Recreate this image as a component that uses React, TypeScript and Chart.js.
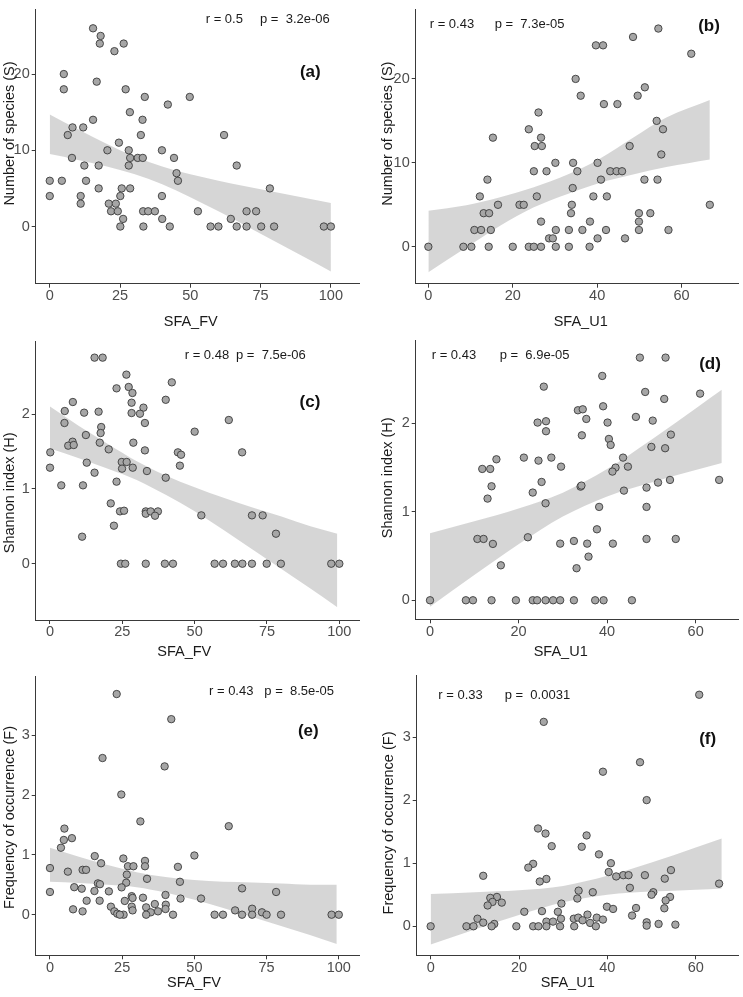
import React, { useEffect, useRef } from "react";
import { Chart, registerables } from "chart.js";
Chart.register(...registerables);

const FONT = "'Liberation Sans', Arial, Helvetica, sans-serif";

// ---------- data (SFA value, response) ----------
const panelA_FV_S: [number, number][] = [
  [15.4, 26], [18.1, 25], [17.8, 24], [26.3, 24], [23.0, 23], [5.0, 20], [5.0, 18], [16.7, 19], [27.0, 18], [33.8, 17],
  [49.8, 17], [42.0, 16], [28.5, 15], [15.4, 14], [33.0, 14], [8.1, 13], [11.9, 13], [6.4, 12], [32.4, 12], [62.0, 12],
  [24.6, 11], [20.5, 10], [28.1, 10], [39.9, 10], [7.9, 9], [28.6, 9], [31.3, 9], [33.1, 9], [44.2, 9], [12.3, 8],
  [17.4, 8], [28.1, 8], [66.5, 8], [45.1, 7], [0, 6], [4.3, 6], [12.9, 6], [45.6, 6], [17.4, 5], [25.6, 5],
  [28.6, 5], [78.3, 5], [0, 4], [11.0, 4], [25.1, 4], [39.9, 4], [11.0, 3], [21.0, 3], [23.5, 3], [21.8, 2],
  [24.2, 2], [33.2, 2], [35.0, 2], [37.4, 2], [52.7, 2], [70.0, 2], [73.4, 2], [26.1, 1], [40.0, 1], [64.4, 1],
  [25.1, 0], [33.3, 0], [42.7, 0], [57.2, 0], [60.0, 0], [66.5, 0], [70.0, 0], [75.2, 0], [79.8, 0], [97.5, 0], [100, 0],
];
const panelB_U1_S: [number, number][] = [
  [54.5, 26], [48.5, 25], [39.7, 24], [41.4, 24], [62.3, 23], [34.9, 20], [51.3, 19], [36.1, 18], [49.6, 18], [41.6, 17],
  [44.8, 17], [26.1, 16], [54.1, 15], [23.8, 14], [55.6, 14], [15.3, 13], [26.7, 13], [25.2, 12], [26.9, 12], [47.7, 12],
  [55.2, 11], [30.1, 10], [34.3, 10], [40.1, 10], [25.0, 9], [28.0, 9], [35.3, 9], [43.1, 9], [44.6, 9], [45.9, 9],
  [14.0, 8], [40.9, 8], [51.2, 8], [54.3, 8], [34.2, 7], [12.2, 6], [25.7, 6], [39.1, 6], [42.3, 6], [16.5, 5],
  [21.6, 5], [22.6, 5], [34.0, 5], [66.7, 5], [13.1, 4], [14.4, 4], [33.8, 4], [49.9, 4], [52.6, 4], [26.7, 3],
  [38.3, 3], [49.9, 3], [10.9, 2], [12.5, 2], [14.8, 2], [30.2, 2], [33.3, 2], [36.5, 2], [42.1, 2], [49.9, 2],
  [56.9, 2], [28.6, 1], [29.5, 1], [40.1, 1], [46.6, 1], [0, 0], [8.3, 0], [10.2, 0], [14.3, 0], [20.0, 0],
  [23.8, 0], [25.0, 0], [26.7, 0], [30.2, 0], [33.3, 0], [38.2, 0],
];
const panelC_FV_H: [number, number][] = [
  [15.4, 2.753], [18.2, 2.753], [26.4, 2.526], [42.1, 2.423], [23.0, 2.343], [27.2, 2.361], [28.5, 2.281], [40.0, 2.19],
  [7.9, 2.16], [28.2, 2.151], [32.3, 2.085], [5.1, 2.04], [16.8, 2.031], [11.8, 2.018], [28.2, 2.013], [31.1, 2.004],
  [61.8, 1.92], [5.0, 1.88], [32.8, 1.88], [17.7, 1.826], [17.5, 1.746], [50.0, 1.764], [12.4, 1.719], [7.8, 1.63],
  [28.8, 1.617], [17.2, 1.617], [6.3, 1.577], [8.2, 1.586], [20.3, 1.528], [32.8, 1.514], [44.2, 1.488], [66.4, 1.488],
  [0.1, 1.488], [45.3, 1.456], [24.8, 1.359], [26.5, 1.359], [12.7, 1.35], [44.9, 1.31], [0, 1.283], [28.6, 1.283],
  [24.9, 1.27], [33.5, 1.238], [15.4, 1.216], [40.0, 1.149], [23.0, 1.096], [3.9, 1.047], [11.4, 1.047], [21.0, 0.806],
  [24.2, 0.699], [25.6, 0.708], [33.1, 0.699], [33.1, 0.668], [34.8, 0.699], [37.3, 0.699], [36.3, 0.641], [52.3, 0.646],
  [69.8, 0.646], [73.5, 0.646], [22.1, 0.508], [78.1, 0.401], [11.1, 0.361], [24.5, 0], [26.0, 0], [33.1, 0],
  [39.7, 0], [42.5, 0], [56.9, 0], [59.8, 0], [63.9, 0], [66.5, 0], [69.8, 0], [74.9, 0], [79.8, 0], [97.2, 0], [100, 0],
];
const panelD_U1_H: [number, number][] = [
  [47.4, 2.742], [53.2, 2.742], [38.9, 2.535], [25.7, 2.414], [48.6, 2.354], [61.0, 2.335], [52.9, 2.275], [39.1, 2.192],
  [33.4, 2.147], [34.5, 2.158], [35.3, 2.049], [46.5, 2.072], [24.3, 2.008], [26.2, 2.023], [40.1, 2.008], [50.3, 2.03],
  [26.2, 1.91], [34.3, 1.864], [54.4, 1.872], [40.4, 1.823], [40.8, 1.755], [50.0, 1.733], [53.1, 1.718], [15.0, 1.593],
  [21.2, 1.612], [27.4, 1.612], [24.5, 1.578], [43.6, 1.612], [11.8, 1.484], [13.6, 1.484], [29.6, 1.51], [44.7, 1.51],
  [41.9, 1.499], [41.2, 1.454], [25.2, 1.337], [51.5, 1.33], [54.2, 1.36], [65.3, 1.36], [13.9, 1.288], [34.0, 1.284],
  [34.2, 1.296], [48.9, 1.273], [23.2, 1.217], [43.8, 1.239], [13.0, 1.149], [26.1, 1.096], [38.2, 1.055], [48.9, 1.055],
  [37.7, 0.802], [10.7, 0.693], [12.1, 0.693], [22.1, 0.712], [48.9, 0.693], [55.5, 0.693], [14.2, 0.637], [29.4, 0.64],
  [32.5, 0.67], [35.5, 0.64], [41.3, 0.64], [35.8, 0.493], [16.0, 0.395], [33.1, 0.362], [0, 0], [8.1, 0],
  [9.7, 0], [13.9, 0], [19.4, 0], [23.2, 0], [24.2, 0], [26.1, 0], [27.8, 0], [29.4, 0], [32.5, 0], [37.3, 0], [39.2, 0], [45.6, 0],
];
const panelE_FV_F: [number, number][] = [
  [23.1, 3.69], [42.0, 3.27], [18.2, 2.62], [39.7, 2.48], [24.7, 2.01], [31.3, 1.56], [61.9, 1.48], [5.0, 1.44],
  [4.8, 1.25], [7.6, 1.28], [3.8, 1.12], [50.0, 0.99], [15.5, 0.98], [25.4, 0.94], [32.9, 0.9], [17.7, 0.86],
  [27.0, 0.81], [28.9, 0.81], [32.9, 0.81], [44.3, 0.8], [0, 0.78], [11.3, 0.75], [12.5, 0.75], [6.2, 0.72],
  [26.6, 0.67], [33.6, 0.6], [45.0, 0.55], [26.4, 0.535], [16.6, 0.524], [17.3, 0.51], [8.4, 0.46], [24.8, 0.457],
  [66.5, 0.44], [11.0, 0.435], [15.4, 0.396], [20.4, 0.39], [0, 0.38], [78.3, 0.38], [40.0, 0.33], [28.3, 0.31],
  [28.6, 0.28], [32.2, 0.284], [45.2, 0.27], [52.3, 0.27], [12.7, 0.234], [17.2, 0.234], [25.9, 0.23], [21.1, 0.134],
  [28.3, 0.134], [36.3, 0.178], [40.1, 0.167], [33.3, 0.123], [40.0, 0.095], [70.0, 0.1], [8.0, 0.09], [28.6, 0.072],
  [64.1, 0.072], [11.3, 0.056], [22.3, 0.056], [37.4, 0.056], [34.9, 0.04], [73.4, 0.04], [23.3, 0.017], [25.5, 0],
  [24.2, 0], [33.3, 0], [42.6, 0], [57.0, 0], [59.9, 0], [66.5, 0], [70.0, 0], [75.0, 0], [80.0, 0], [97.5, 0], [100, 0],
];
const panelF_U1_F: [number, number][] = [
  [60.8, 3.67], [25.6, 3.24], [47.4, 2.6], [39.0, 2.45], [48.9, 2.0], [24.3, 1.55], [26.0, 1.47], [35.3, 1.44],
  [27.4, 1.27], [34.2, 1.26], [38.1, 1.14], [40.8, 1.0], [23.2, 0.99], [22.1, 0.93], [54.4, 0.89], [40.3, 0.86],
  [11.9, 0.8], [43.6, 0.81], [44.8, 0.81], [48.5, 0.81], [42.0, 0.79], [26.2, 0.75], [53.0, 0.755], [24.7, 0.71],
  [65.3, 0.676], [45.1, 0.61], [33.5, 0.565], [50.4, 0.54], [36.7, 0.54], [50.0, 0.5], [15.0, 0.465], [54.2, 0.465],
  [13.5, 0.45], [33.2, 0.44], [53.2, 0.41], [14.0, 0.386], [16.1, 0.375], [12.9, 0.33], [29.6, 0.36], [52.9, 0.285],
  [46.5, 0.29], [39.9, 0.31], [41.3, 0.275], [21.2, 0.23], [25.2, 0.24], [28.8, 0.23], [45.6, 0.17], [35.5, 0.185],
  [37.6, 0.137], [10.6, 0.12], [29.5, 0.12], [32.4, 0.12], [33.4, 0.137], [39.0, 0.106], [34.4, 0.095], [26.2, 0.074],
  [27.7, 0.074], [11.9, 0.058], [36.1, 0.053], [14.4, 0.037], [48.9, 0.063], [51.6, 0.037], [55.4, 0.026], [0, 0],
  [8.1, 0], [9.7, 0], [13.8, 0], [19.4, 0], [23.2, 0], [24.4, 0], [26.2, 0], [29.3, 0], [32.5, 0], [37.4, 0], [48.9, 0.01],
];

// ---------- confidence bands ----------
const bandA_x = [0, 10, 20, 30, 40, 50, 60, 70, 80, 90, 100];
const bandA_upper = [14.7, 12.77, 10.9, 9.22, 7.87, 6.85, 6.02, 5.25, 4.52, 3.8, 3.1];
const bandA_lower = [9.5, 8.74, 7.9, 6.88, 5.53, 3.85, 1.99, 0.05, -1.92, -3.9, -5.9];

const bandB_x = [0, 9, 17, 25, 33, 40.6, 48.5, 56.4, 66.7];
const bandB_upper = [4.3, 4.95, 5.9, 7.1, 8.6, 10.5, 13.0, 15.4, 17.5];
const bandB_lower = [-3.05, -0.1, 2.5, 4.7, 6.3, 7.6, 8.6, 9.5, 10.4];

const bandC_x = [0, 10, 20, 30, 40, 50, 60, 70, 80, 90, 99.3];
const bandC_upper = [2.1, 1.84, 1.6, 1.37, 1.18, 1.02, 0.88, 0.75, 0.63, 0.5, 0.4];
const bandC_lower = [1.54, 1.41, 1.27, 1.12, 0.92, 0.7, 0.45, 0.19, -0.07, -0.33, -0.58];

const bandD_x = [0, 10, 20, 30, 40, 50, 60, 65.9];
const bandD_upper = [0.758, 0.893, 1.038, 1.216, 1.482, 1.814, 2.167, 2.378];
const bandD_lower = [-0.072, 0.285, 0.633, 0.946, 1.173, 1.332, 1.472, 1.55];

const bandE_x = [0, 10, 20, 30, 40, 50, 60, 70, 80, 90, 99.3];
const bandE_upper = [1.12, 0.97, 0.83, 0.71, 0.63, 0.58, 0.55, 0.54, 0.52, 0.5, 0.5];
const bandE_lower = [0.55, 0.53, 0.5, 0.46, 0.37, 0.25, 0.11, -0.04, -0.19, -0.34, -0.49];

const bandF_x = [0, 10, 20, 30, 40, 50, 60, 65.9];
const bandF_upper = [0.51, 0.54, 0.57, 0.64, 0.8, 1.01, 1.25, 1.39];
const bandF_lower = [-0.29, -0.05, 0.18, 0.38, 0.5, 0.55, 0.58, 0.6];

// ---------- tick labels ----------
const ticksFV = [0, 25, 50, 75, 100];
const ticksU1 = [0, 20, 40, 60];
const ticksS = [0, 10, 20];
const ticksH = [0, 1, 2];
const ticksF = [0, 1, 2, 3];

// ---------- annotations ----------
const statsR = ["r = 0.5", "r = 0.43", "r = 0.48", "r = 0.43", "r = 0.43", "r = 0.33"];
const statsP = ["p =  3.2e-06", "p =  7.3e-05", "p =  7.5e-06", "p =  6.9e-05", "p =  8.5e-05", "p =  0.0031"];
const panelLabels = ["(a)", "(b)", "(c)", "(d)", "(e)", "(f)"];

type Panel = {
  canvas: { left: number; top: number; width: number; height: number };
  area: { left: number; top: number; right: number; bottom: number };
  xRange: [number, number];
  yRange: [number, number];
  xTicks: number[];
  yTicks: number[];
  points: [number, number][];
  bandX: number[];
  bandUpper: number[];
  bandLower: number[];
  xTitle: string;
  yTitle: string;
  xTitlePos: [number, number];
  yTitlePos: [number, number];
  r: string;
  p: string;
  rPos: [number, number];
  pPos: [number, number];
  label: string;
  labelPos: [number, number];
};

const panels: Panel[] = [
  {
    canvas: { left: 0, top: 0, width: 370, height: 330 },
    area: { left: 35.7, top: 3, right: 359, bottom: 283.7 },
    xRange: [-5, 110], yRange: [-7.5, 28.5], xTicks: ticksFV, yTicks: ticksS,
    points: panelA_FV_S, bandX: bandA_x, bandUpper: bandA_upper, bandLower: bandA_lower,
    xTitle: "SFA_FV", yTitle: "Number of species (S)", xTitlePos: [190.7, 321.7], yTitlePos: [9.5, 133.5],
    r: statsR[0], p: statsP[0], rPos: [205.7, 19], pPos: [260, 19], label: panelLabels[0], labelPos: [310.3, 72],
  },
  {
    canvas: { left: 370, top: 0, width: 373, height: 330 },
    area: { left: 415.7, top: 3, right: 738.3, bottom: 283.7 },
    xRange: [-3, 73.4], yRange: [-4.4, 28.3], xTicks: ticksU1, yTicks: ticksS,
    points: panelB_U1_S, bandX: bandB_x, bandUpper: bandB_upper, bandLower: bandB_lower,
    xTitle: "SFA_U1", yTitle: "Number of species (S)", xTitlePos: [580.7, 321.7], yTitlePos: [388.3, 133.7],
    r: statsR[1], p: statsP[1], rPos: [429.7, 24], pPos: [494.7, 24], label: panelLabels[1], labelPos: [709, 26.7],
  },
  {
    canvas: { left: 0, top: 330, width: 370, height: 330 },
    area: { left: 35.7, top: 341.7, right: 359.3, bottom: 620 },
    xRange: [-4.94, 106.9], yRange: [-0.752, 2.966], xTicks: ticksFV, yTicks: ticksH,
    points: panelC_FV_H, bandX: bandC_x, bandUpper: bandC_upper, bandLower: bandC_lower,
    xTitle: "SFA_FV", yTitle: "Shannon index (H)", xTitlePos: [184.3, 651.7], yTitlePos: [10, 492.8],
    r: statsR[2], p: statsP[2], rPos: [184.7, 355.3], pPos: [236, 355.3], label: panelLabels[2], labelPos: [310, 402.7],
  },
  {
    canvas: { left: 370, top: 330, width: 373, height: 330 },
    area: { left: 415.7, top: 340, right: 738, bottom: 619.3 },
    xRange: [-3.23, 69.56], yRange: [-0.215, 2.941], xTicks: ticksU1, yTicks: ticksH,
    points: panelD_U1_H, bandX: bandD_x, bandUpper: bandD_upper, bandLower: bandD_lower,
    xTitle: "SFA_U1", yTitle: "Shannon index (H)", xTitlePos: [560.7, 652.3], yTitlePos: [388.3, 477.8],
    r: statsR[3], p: statsP[3], rPos: [431.7, 355.3], pPos: [499.7, 355.3], label: panelLabels[3], labelPos: [710, 364.3],
  },
  {
    canvas: { left: 0, top: 660, width: 370, height: 337 },
    area: { left: 35.7, top: 676.7, right: 359.3, bottom: 955.3 },
    xRange: [-4.94, 107.1], yRange: [-0.679, 3.98], xTicks: ticksFV, yTicks: ticksF,
    points: panelE_FV_F, bandX: bandE_x, bandUpper: bandE_upper, bandLower: bandE_lower,
    xTitle: "SFA_FV", yTitle: "Frequency of occurrence (F)", xTitlePos: [194, 982.7], yTitlePos: [9.5, 817.5],
    r: statsR[4], p: statsP[4], rPos: [209, 691.7], pPos: [264.3, 691.7], label: panelLabels[4], labelPos: [308.3, 731.7],
  },
  {
    canvas: { left: 370, top: 660, width: 373, height: 337 },
    area: { left: 416.7, top: 675, right: 739.3, bottom: 955.3 },
    xRange: [-3.16, 69.6], yRange: [-0.46, 3.983], xTicks: ticksU1, yTicks: ticksF,
    points: panelF_U1_F, bandX: bandF_x, bandUpper: bandF_upper, bandLower: bandF_lower,
    xTitle: "SFA_U1", yTitle: "Frequency of occurrence (F)", xTitlePos: [567.7, 983.3], yTitlePos: [388.7, 823],
    r: statsR[5], p: statsP[5], rPos: [438.3, 695], pPos: [504.7, 695], label: panelLabels[5], labelPos: [707.7, 739.3],
  },
];

const AXIS_COLOR = "#3a3a3a";
const TICK_LABEL_COLOR = "#4d4d4d";

function PanelChart({ panel }: { panel: Panel }) {
  const ref = useRef<HTMLCanvasElement>(null);
  useEffect(() => {
    const el = ref.current;
    if (!el) return;
    const cv = panel.canvas;
    const area = panel.area;
    const textPlugin = {
      id: "panelText",
      afterDraw(chart: any) {
        const ctx = chart.ctx as CanvasRenderingContext2D;
        ctx.save();
        ctx.fillStyle = "#1a1a1a";
        ctx.textBaseline = "middle";
        ctx.textAlign = "left";
        ctx.font = `13px ${FONT}`;
        ctx.fillText(panel.r, panel.rPos[0] - cv.left, panel.rPos[1] - cv.top);
        ctx.fillText(panel.p, panel.pPos[0] - cv.left, panel.pPos[1] - cv.top);
        ctx.font = `bold 17px ${FONT}`;
        ctx.textAlign = "center";
        ctx.fillStyle = "#111";
        ctx.fillText(panel.label, panel.labelPos[0] - cv.left, panel.labelPos[1] - cv.top);
        ctx.font = `14.5px ${FONT}`;
        ctx.fillStyle = "#1a1a1a";
        ctx.fillText(panel.xTitle, panel.xTitlePos[0] - cv.left, panel.xTitlePos[1] - cv.top);
        ctx.translate(panel.yTitlePos[0] - cv.left, panel.yTitlePos[1] - cv.top);
        ctx.rotate(-Math.PI / 2);
        ctx.fillText(panel.yTitle, 0, 0);
        ctx.restore();
      },
    };
    const tickFont = { family: FONT, size: 14.5, lineHeight: 1 };
    const chart = new Chart(el, {
      type: "scatter",
      data: {
        datasets: [
          {
            type: "scatter",
            data: panel.points.map(([x, y]) => ({ x, y })),
            pointRadius: 3.7,
            pointBackgroundColor: "#a6a6a6",
            pointBorderColor: "#3b3b3b",
            pointBorderWidth: 0.9,
            order: 0,
          } as any,
          {
            type: "line",
            data: panel.bandX.map((x, i) => ({ x, y: panel.bandUpper[i] })),
            borderColor: "rgba(0,0,0,0)",
            borderWidth: 0,
            pointRadius: 0,
            fill: "+1",
            backgroundColor: "rgba(153,153,153,0.4)",
            cubicInterpolationMode: "monotone",
            order: 1,
          } as any,
          {
            type: "line",
            data: panel.bandX.map((x, i) => ({ x, y: panel.bandLower[i] })),
            borderColor: "rgba(0,0,0,0)",
            borderWidth: 0,
            pointRadius: 0,
            fill: false,
            cubicInterpolationMode: "monotone",
            order: 1,
          } as any,
        ],
      },
      options: {
        responsive: false,
        animation: false,
        devicePixelRatio: 1,
        events: [],
        layout: {
          padding: {
            left: 0,
            top: area.top - cv.top,
            right: cv.left + cv.width - area.right,
            bottom: 0,
          },
        },
        plugins: { legend: { display: false }, tooltip: { enabled: false } },
        scales: {
          x: {
            type: "linear",
            min: panel.xRange[0],
            max: panel.xRange[1],
            afterBuildTicks: (s: any) => {
              s.ticks = panel.xTicks.map((v) => ({ value: v }));
            },
            afterFit: (s: any) => {
              s.height = cv.top + cv.height - area.bottom;
            },
            ticks: {
              font: tickFont,
              color: TICK_LABEL_COLOR,
              padding: 1,
              autoSkip: false,
              maxRotation: 0,
              callback: (v: any) => String(v),
            },
            grid: { display: true, drawOnChartArea: false, drawTicks: true, tickLength: 4, color: AXIS_COLOR, lineWidth: 1 },
            border: { display: true, color: AXIS_COLOR, width: 1 },
          },
          y: {
            type: "linear",
            min: panel.yRange[0],
            max: panel.yRange[1],
            afterBuildTicks: (s: any) => {
              s.ticks = panel.yTicks.map((v) => ({ value: v }));
            },
            afterFit: (s: any) => {
              s.width = area.left - cv.left;
            },
            ticks: {
              font: tickFont,
              color: TICK_LABEL_COLOR,
              padding: 2,
              autoSkip: false,
              callback: (v: any) => String(v),
            },
            grid: { display: true, drawOnChartArea: false, drawTicks: true, tickLength: 4, color: AXIS_COLOR, lineWidth: 1 },
            border: { display: true, color: AXIS_COLOR, width: 1 },
          },
        },
      } as any,
      plugins: [textPlugin],
    });
    return () => chart.destroy();
  }, [panel]);
  const cv = panel.canvas;
  return (
    <canvas
      ref={ref}
      width={cv.width}
      height={cv.height}
      style={{ position: "absolute", left: cv.left, top: cv.top, width: cv.width, height: cv.height }}
    />
  );
}

export default function App() {
  return (
    <div style={{ position: "absolute", left: 0, top: 0, width: 743, height: 997, background: "#ffffff", overflow: "hidden" }}>
      {panels.map((p, i) => (
        <PanelChart key={i} panel={p} />
      ))}
    </div>
  );
}
